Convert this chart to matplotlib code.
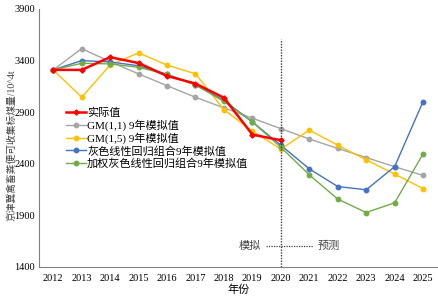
import matplotlib
matplotlib.use("Agg")
import matplotlib.pyplot as plt

years = list(range(2012, 2026))
actual = [3310, 3310, 3433, 3376, 3251, 3177, 3040, 2683, 2628]
gm11 = [3310, 3516, 3390, 3271, 3157, 3045, 2942, 2842, 2741, 2640, 2549, 2461, 2372, 2287]
gm15 = [3310, 3045, 3358, 3475, 3356, 3272, 2925, 2716, 2543, 2727, 2580, 2438, 2300, 2160]
grey_lr = [3310, 3400, 3387, 3350, 3268, 3166, 3015, 2805, 2580, 2351, 2180, 2148, 2372, 3003]
w_grey_lr = [3310, 3374, 3368, 3335, 3266, 3164, 3004, 2806, 2561, 2293, 2058, 1928, 2022, 2496]

labels = ["实际值", "GM(1,1) 9年模拟值", "GM(1,5) 9年模拟值",
          "灰色线性回归组合9年模拟值", "加权灰色线性回归组合9年模拟值"]

plt.rcParams["font.family"] = ["Liberation Serif", "Noto Sans CJK SC"]

fig = plt.figure(figsize=(4.39, 2.97), dpi=100)
ax = fig.add_axes([39 / 439, 30 / 297, 400 / 439, 258 / 297])

ax.plot(years, gm11, color="#A5A5A5", lw=1.0, marker="o", ms=3.2, label=labels[1], zorder=3)
ax.plot(years, gm15, color="#FFC000", lw=1.0, marker="o", ms=3.2, label=labels[2], zorder=3)
ax.plot(years, grey_lr, color="#4472C4", lw=1.0, marker="o", ms=3.2, label=labels[3], zorder=3)
ax.plot(years, w_grey_lr, color="#70AD47", lw=1.0, marker="o", ms=3.2, label=labels[4], zorder=4)
ax.plot(years[:len(actual)], actual, color="#FF0000", lw=1.8, marker="D", ms=2.6,
        label=labels[0], zorder=5)

ax.vlines(2020, 1400, 3610, colors="#404040", linestyles=(0, (1, 1)), lw=1.0, zorder=6)
ax.hlines(1600, 2019.48, 2021.13, colors="#404040", linestyles=(0, (1, 1)), lw=0.9)
ax.text(2018.9, 1600, "模拟", ha="center", va="center", fontsize=8, color="#404040")
ax.text(2021.7, 1600, "预测", ha="center", va="center", fontsize=8, color="#404040")

ax.set_xlim(2011.5, 2025.56)
ax.set_ylim(1400, 3900)
ax.set_xticks(years)
ax.set_yticks([1400, 1900, 2400, 2900, 3400, 3900])
ax.tick_params(axis="x", length=0, labelsize=7.5, pad=5)
ax.tick_params(axis="y", length=0, labelsize=7.5, pad=3)
for s in ["top", "right"]:
    ax.spines[s].set_visible(False)
ax.spines["left"].set_color("#808080")
ax.spines["bottom"].set_color("#808080")

ax.set_xlabel("年份", fontsize=8, labelpad=1)
fig.text(11 / 439, 1 - 145 / 297, "京津冀禽畜粪便可收集标煤量/10^4t", rotation=90,
         ha="center", va="center", fontsize=7, color="#404040")

handles, labs = ax.get_legend_handles_labels()
order = [4, 0, 1, 2, 3]
ax.legend([handles[i] for i in order], [labs[i] for i in order],
          loc="upper left", bbox_to_anchor=(66 / 439, 1 - 108 / 297),
          bbox_transform=fig.transFigure, frameon=False, fontsize=8,
          handlelength=1.8, handletextpad=0.1, labelspacing=0.12,
          borderaxespad=0, borderpad=0)

fig.savefig("out.png", dpi=100)
